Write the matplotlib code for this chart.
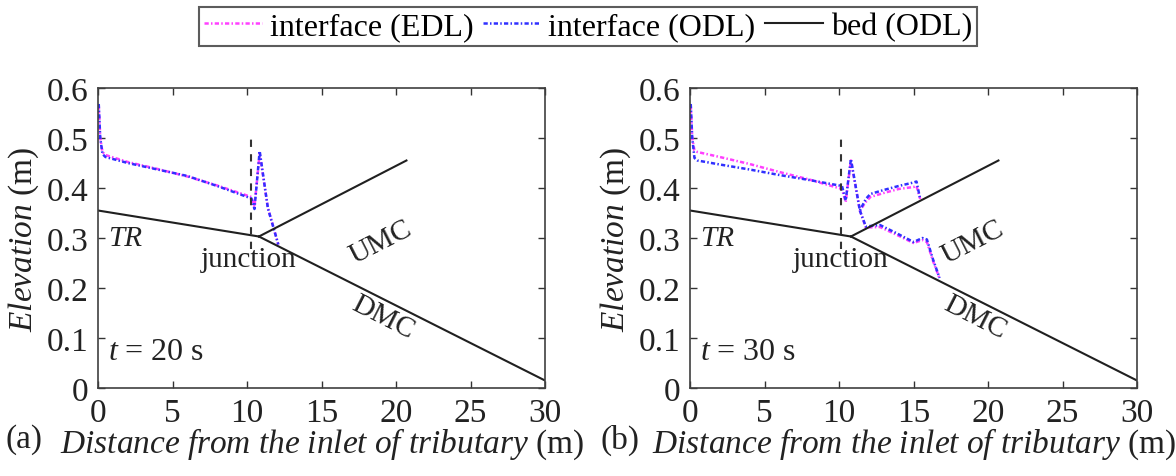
import matplotlib
matplotlib.use("Agg")
import matplotlib.pyplot as plt

plt.rcParams['font.family'] = ['Liberation Serif', 'DejaVu Serif']
plt.rcParams['mathtext.fontset'] = 'custom'
plt.rcParams['mathtext.rm'] = 'Liberation Serif'
plt.rcParams['mathtext.it'] = 'Liberation Serif:italic'

# ---- data ----
# bed (ODL): tributary, upstream main channel, downstream main channel
bed_tr_x = [0.0, 10.8]
bed_tr_y = [0.355, 0.303]
bed_umc_x = [10.8, 20.7]
bed_umc_y = [0.303, 0.455]
bed_dmc_x = [10.8, 30.0]
bed_dmc_y = [0.303, 0.015]

# panel (a) t = 20 s
a_edl_x = [0.05, 0.15, 0.3, 0.5, 2.0, 4.0, 6.0, 8.0, 10.3, 10.5, 10.85, 11.4, 12.1]
a_edl_y = [0.565, 0.50, 0.472, 0.466, 0.452, 0.438, 0.423, 0.405, 0.382, 0.362, 0.470, 0.36, 0.287]
a_odl_x = [0.05, 0.15, 0.3, 0.5, 2.0, 4.0, 6.0, 8.0, 10.3, 10.5, 10.85, 11.4, 12.1]
a_odl_y = [0.568, 0.50, 0.468, 0.462, 0.450, 0.437, 0.424, 0.404, 0.379, 0.358, 0.474, 0.36, 0.287]
a_junction_x = 10.25

# panel (b) t = 30 s
b_edl_x = [0.05, 0.15, 0.3, 0.5, 2.0, 4.0, 6.0, 8.0, 10.2, 10.45, 10.8, 11.4,
           11.8, 12.1, 13.0, 14.0, 15.0, 15.2, 15.45]
b_edl_y = [0.565, 0.50, 0.475, 0.472, 0.462, 0.448, 0.432, 0.417, 0.398, 0.372, 0.455, 0.355,
           0.372, 0.382, 0.390, 0.398, 0.402, 0.404, 0.378]
b_odl_x = [0.05, 0.15, 0.3, 0.5, 2.0, 4.0, 6.0, 8.0, 10.2, 10.45, 10.8, 11.4,
           11.8, 12.1, 13.0, 14.0, 15.0, 15.2, 15.45]
b_odl_y = [0.568, 0.50, 0.460, 0.455, 0.447, 0.437, 0.426, 0.416, 0.404, 0.375, 0.458, 0.355,
           0.378, 0.388, 0.396, 0.404, 0.411, 0.413, 0.378]
b_edl2_x = [11.4, 11.8, 12.75, 13.9, 15.0, 15.6, 15.9, 16.3, 16.75]
b_edl2_y = [0.355, 0.321, 0.322, 0.306, 0.290, 0.296, 0.292, 0.255, 0.219]
b_odl2_x = [11.4, 11.8, 12.75, 13.9, 15.0, 15.6, 15.9, 16.3, 16.75]
b_odl2_y = [0.355, 0.323, 0.326, 0.309, 0.292, 0.300, 0.297, 0.258, 0.220]
b_junction_x = 10.15

xticks = [0, 5, 10, 15, 20, 25, 30]
yticks = [0, 0.1, 0.2, 0.3, 0.4, 0.5, 0.6]
yticklabels = ['0', '0.1', '0.2', '0.3', '0.4', '0.5', '0.6']

FS = 24      # ticks, axis labels
FS_ANN = 21  # channel annotations
FS_LEG = 23
C_EDL = '#ff40ff'
C_ODL = '#3030ff'
DASH = (0, (1.7, 0.9, 0.6, 0.9))
TXT = '#222222'

fig = plt.figure(figsize=(11.76, 4.77), dpi=100)
ax_a = fig.add_axes([98 / 1176, 1 - 389 / 477, 447 / 1176, 300 / 477])
ax_b = fig.add_axes([690 / 1176, 1 - 389 / 477, 447 / 1176, 300 / 477])


def draw(ax, edl_segs, odl_segs, jx, tlabel, plabel, plabel_x):
    h_edl = h_odl = None
    for (x, y) in edl_segs:
        h_edl, = ax.plot(x, y, color=C_EDL, ls=DASH, lw=1.8)
    for (x, y) in odl_segs:
        h_odl, = ax.plot(x, y, color=C_ODL, ls=DASH, lw=1.8)
    h_bed, = ax.plot(bed_tr_x, bed_tr_y, color='#202020', lw=1.5)
    ax.plot(bed_umc_x, bed_umc_y, color='#202020', lw=1.5)
    ax.plot(bed_dmc_x, bed_dmc_y, color='#202020', lw=1.5)
    ax.plot([jx, jx], [0.278, 0.50], color='#333333', ls=(0, (3.5, 3.5)), lw=1.5)
    ax.set_xlim(0, 30)
    ax.set_ylim(0, 0.6)
    ax.set_xticks(xticks)
    ax.set_yticks(yticks)
    ax.set_yticklabels(yticklabels)
    ax.tick_params(direction='in', top=True, right=True, labelsize=FS, length=5,
                   width=1, colors='#333333', labelcolor=TXT, pad=7)
    for s in ax.spines.values():
        s.set_color('#404040')
        s.set_linewidth(1.2)
    ax.set_xlabel(r'$\mathit{Distance\ from\ the\ inlet\ of\ tributary}$ (m)', fontsize=FS,
                  labelpad=-2, color=TXT)
    ax.set_ylabel(r'$\mathit{Elevation}$ (m)', fontsize=FS, labelpad=4, color=TXT)
    ax.text(0.7, 0.30, 'TR', style='italic', fontsize=FS_ANN, va='center', ha='left', color=TXT)
    ax.text(10.1, 0.258, 'junction', fontsize=FS_ANN, va='center', ha='center', color=TXT)
    ax.text(19.0, 0.292, 'UMC', fontsize=FS_ANN, va='center', ha='center', rotation=27,
            rotation_mode='anchor', color=TXT)
    ax.text(19.1, 0.142, 'DMC', fontsize=FS_ANN, va='center', ha='center', rotation=-27,
            rotation_mode='anchor', color=TXT)
    ax.text(0.65, 0.074, r'$\mathit{t}$ = ' + tlabel, fontsize=23, va='center', ha='left',
            color=TXT)
    fig.text(plabel_x, 1 - 440 / 477, plabel, fontsize=FS, va='center', ha='left', color=TXT)
    return h_edl, h_odl, h_bed


h1, h2, h3 = draw(ax_a, [(a_edl_x, a_edl_y)], [(a_odl_x, a_odl_y)], a_junction_x,
                  '20 s', '(a)', 6 / 1176)
draw(ax_b, [(b_edl_x, b_edl_y), (b_edl2_x, b_edl2_y)],
     [(b_odl_x, b_odl_y), (b_odl2_x, b_odl2_y)], b_junction_x, '30 s', '(b)', 600 / 1176)

leg = fig.legend([h1, h2, h3], ['interface (EDL)', 'interface (ODL)', 'bed (ODL)'],
                 loc='upper center', bbox_to_anchor=(0.5, 0.983), ncol=3, fontsize=FS_LEG,
                 frameon=True, fancybox=False, edgecolor='#333333', handlelength=1.8,
                 handletextpad=0.25, columnspacing=0.3, borderpad=0.15, borderaxespad=0)
leg.get_frame().set_linewidth(1.5)

fig.savefig('out.png', dpi=100)
